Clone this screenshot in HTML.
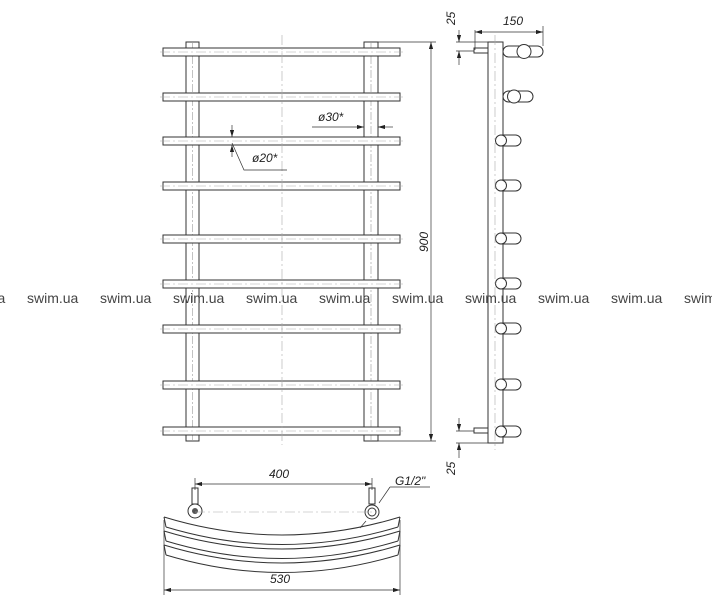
<!DOCTYPE html>
<html><head><style>
html,body{margin:0;padding:0;background:#fff;width:712px;height:600px;overflow:hidden}
svg{display:block}
text{font-family:"Liberation Sans",sans-serif}
</style></head><body>
<svg width="712" height="600" viewBox="0 0 712 600" xmlns="http://www.w3.org/2000/svg">
<defs>
<marker id="a" viewBox="0 0 10 6" refX="10" refY="3" markerWidth="10" markerHeight="6" orient="auto-start-reverse"><path d="M0,0L10,3L0,6z" fill="#222"/></marker>
</defs>
<g stroke="#333" stroke-width="1" fill="#fff">
<!-- posts -->
<rect x="186" y="42" width="13" height="399"/>
<rect x="364" y="42" width="14" height="399"/>
<line x1="192.5" y1="42" x2="192.5" y2="441" stroke="#999" stroke-dasharray="8,2,2,2" stroke-width="0.6"/>
<line x1="371" y1="42" x2="371" y2="441" stroke="#999" stroke-dasharray="8,2,2,2" stroke-width="0.6"/>
<!-- bars -->
<rect x="163" y="48" width="237" height="8"/>
<rect x="163" y="93" width="237" height="8"/>
<rect x="163" y="137" width="237" height="8"/>
<rect x="163" y="182" width="237" height="8"/>
<rect x="163" y="235" width="237" height="8"/>
<rect x="163" y="280" width="237" height="8"/>
<rect x="163" y="325" width="237" height="8"/>
<rect x="163" y="381" width="237" height="8"/>
<rect x="163" y="427" width="237" height="8"/>
</g>
<g stroke="#aaa" stroke-width="0.6" stroke-dasharray="10,3,2,3">
<line x1="282" y1="35" x2="282" y2="445"/>
<line x1="160" y1="52" x2="403" y2="52"/><line x1="160" y1="97" x2="403" y2="97"/>
<line x1="160" y1="141" x2="403" y2="141"/><line x1="160" y1="186" x2="403" y2="186"/>
<line x1="160" y1="239" x2="403" y2="239"/><line x1="160" y1="284" x2="403" y2="284"/>
<line x1="160" y1="329" x2="403" y2="329"/><line x1="160" y1="385" x2="403" y2="385"/>
<line x1="160" y1="431" x2="403" y2="431"/>
</g>
<!-- dims front -->
<g stroke="#333" stroke-width="0.7" fill="none">
<line x1="378" y1="42" x2="436" y2="42"/><line x1="378" y1="441" x2="436" y2="441"/>
<line x1="431" y1="42" x2="431" y2="441" marker-start="url(#a)" marker-end="url(#a)"/>
<line x1="312" y1="127" x2="364" y2="127" marker-end="url(#a)"/>
<line x1="378" y1="127" x2="393" y2="127" marker-start="url(#a)"/>
<line x1="232" y1="125" x2="232" y2="137" marker-end="url(#a)"/>
<line x1="232" y1="157" x2="232" y2="145" marker-end="url(#a)"/>
<polyline points="232,143 244,170 287,170"/>
</g>
<text x="318" y="121" font-size="12" font-style="italic" fill="#222">ø30*</text>
<text x="252" y="162" font-size="12" font-style="italic" fill="#222">ø20*</text>
<text x="0" y="0" font-size="12" font-style="italic" fill="#222" transform="translate(428,252) rotate(-90)">900</text>
<!-- side view -->
<g stroke="#333" stroke-width="1" fill="#fff">
<rect x="488" y="42" width="15" height="401"/>
<rect x="474" y="48" width="14" height="5"/>
<rect x="474" y="428" width="14" height="5"/>
<rect x="503" y="46" width="40" height="11" rx="5.5"/><circle cx="524" cy="51.5" r="7"/>
<rect x="503" y="91" width="30" height="11" rx="5.5"/><circle cx="514" cy="96.5" r="6.5"/>
<rect x="496" y="135" width="25" height="11" rx="5.5"/><circle cx="501" cy="140.5" r="5.5"/>
<rect x="496" y="180" width="25" height="11" rx="5.5"/><circle cx="501" cy="185.5" r="5.5"/>
<rect x="496" y="233" width="25" height="11" rx="5.5"/><circle cx="501" cy="238.5" r="5.5"/>
<rect x="496" y="278" width="25" height="11" rx="5.5"/><circle cx="501" cy="283.5" r="5.5"/>
<rect x="496" y="323" width="25" height="11" rx="5.5"/><circle cx="501" cy="328.5" r="5.5"/>
<rect x="496" y="379" width="25" height="11" rx="5.5"/><circle cx="501" cy="384.5" r="5.5"/>
<rect x="496" y="426" width="25" height="11" rx="5.5"/><circle cx="501" cy="431.5" r="5.5"/>
</g>
<line x1="495" y1="35" x2="495" y2="450" stroke="#aaa" stroke-width="0.6" stroke-dasharray="10,3,2,3"/>
<g stroke="#333" stroke-width="0.7" fill="none">
<line x1="475" y1="30" x2="475" y2="50"/><line x1="543" y1="26" x2="543" y2="46"/>
<line x1="475" y1="32" x2="543" y2="32" marker-start="url(#a)" marker-end="url(#a)"/>
<line x1="456" y1="42" x2="488" y2="42"/><line x1="456" y1="51" x2="474" y2="51"/>
<line x1="459" y1="30" x2="459" y2="42" marker-end="url(#a)"/>
<line x1="459" y1="65" x2="459" y2="51" marker-end="url(#a)"/>
<line x1="456" y1="431" x2="474" y2="431"/><line x1="456" y1="443" x2="488" y2="443"/>
<line x1="459" y1="418" x2="459" y2="431" marker-end="url(#a)"/>
<line x1="459" y1="458" x2="459" y2="443" marker-end="url(#a)"/>
</g>
<text x="503" y="25" font-size="12" font-style="italic" fill="#222">150</text>
<text x="0" y="0" font-size="12" font-style="italic" fill="#222" transform="translate(455,25) rotate(-90)">25</text>
<text x="0" y="0" font-size="12" font-style="italic" fill="#222" transform="translate(455,475) rotate(-90)">25</text>
<!-- bottom view -->
<g stroke="#333" stroke-width="1" fill="none">
<path d="M164,517 Q282,553 400,517"/><path d="M166,527 Q282,562 398,527"/>
<path d="M164,531 Q282,567 400,531"/><path d="M166,541 Q282,576 398,541"/>
<path d="M164,545 Q282,581 400,545"/><path d="M166,555 Q282,590 398,555"/>
<line x1="164" y1="517" x2="166" y2="527"/><line x1="400" y1="517" x2="398" y2="527"/>
<line x1="164" y1="531" x2="166" y2="541"/><line x1="400" y1="531" x2="398" y2="541"/>
<line x1="164" y1="545" x2="166" y2="555"/><line x1="400" y1="545" x2="398" y2="555"/>
</g>
<g stroke="#333" stroke-width="1" fill="#fff">
<rect x="192" y="488" width="6" height="16"/><rect x="369" y="488" width="6" height="16"/>
<circle cx="195" cy="511" r="7"/><circle cx="372" cy="512" r="7"/>
<circle cx="372" cy="512" r="4"/>
</g>
<circle cx="195" cy="511" r="3" fill="#555"/>
<line x1="195" y1="512" x2="372" y2="512" stroke="#aaa" stroke-width="0.6" stroke-dasharray="10,3,2,3"/>
<g stroke="#333" stroke-width="0.7" fill="none">
<line x1="195" y1="478" x2="195" y2="490"/><line x1="372" y1="478" x2="372" y2="490"/>
<line x1="195" y1="484" x2="372" y2="484" marker-start="url(#a)" marker-end="url(#a)"/>
<line x1="164" y1="520" x2="164" y2="595"/><line x1="400" y1="520" x2="400" y2="595"/>
<line x1="164" y1="590" x2="400" y2="590" marker-start="url(#a)" marker-end="url(#a)"/>
<polyline points="390,487 379,503"/><line x1="366" y1="521" x2="360" y2="528"/>
<line x1="390" y1="487" x2="430" y2="487"/>
</g>
<text x="269" y="478" font-size="12" font-style="italic" fill="#222">400</text>
<text x="270" y="583" font-size="12" font-style="italic" fill="#222">530</text>
<text x="395" y="485" font-size="12" font-style="italic" fill="#222">G1/2"</text>
<!-- watermark -->
<g font-size="14" fill="#444">
<text x="-46" y="303">swim.ua</text><text x="27" y="303">swim.ua</text>
<text x="100" y="303">swim.ua</text><text x="173" y="303">swim.ua</text>
<text x="246" y="303">swim.ua</text><text x="319" y="303">swim.ua</text>
<text x="392" y="303">swim.ua</text><text x="465" y="303">swim.ua</text>
<text x="538" y="303">swim.ua</text><text x="611" y="303">swim.ua</text>
<text x="684" y="303">swim.ua</text>
</g>
</svg>
</body></html>
